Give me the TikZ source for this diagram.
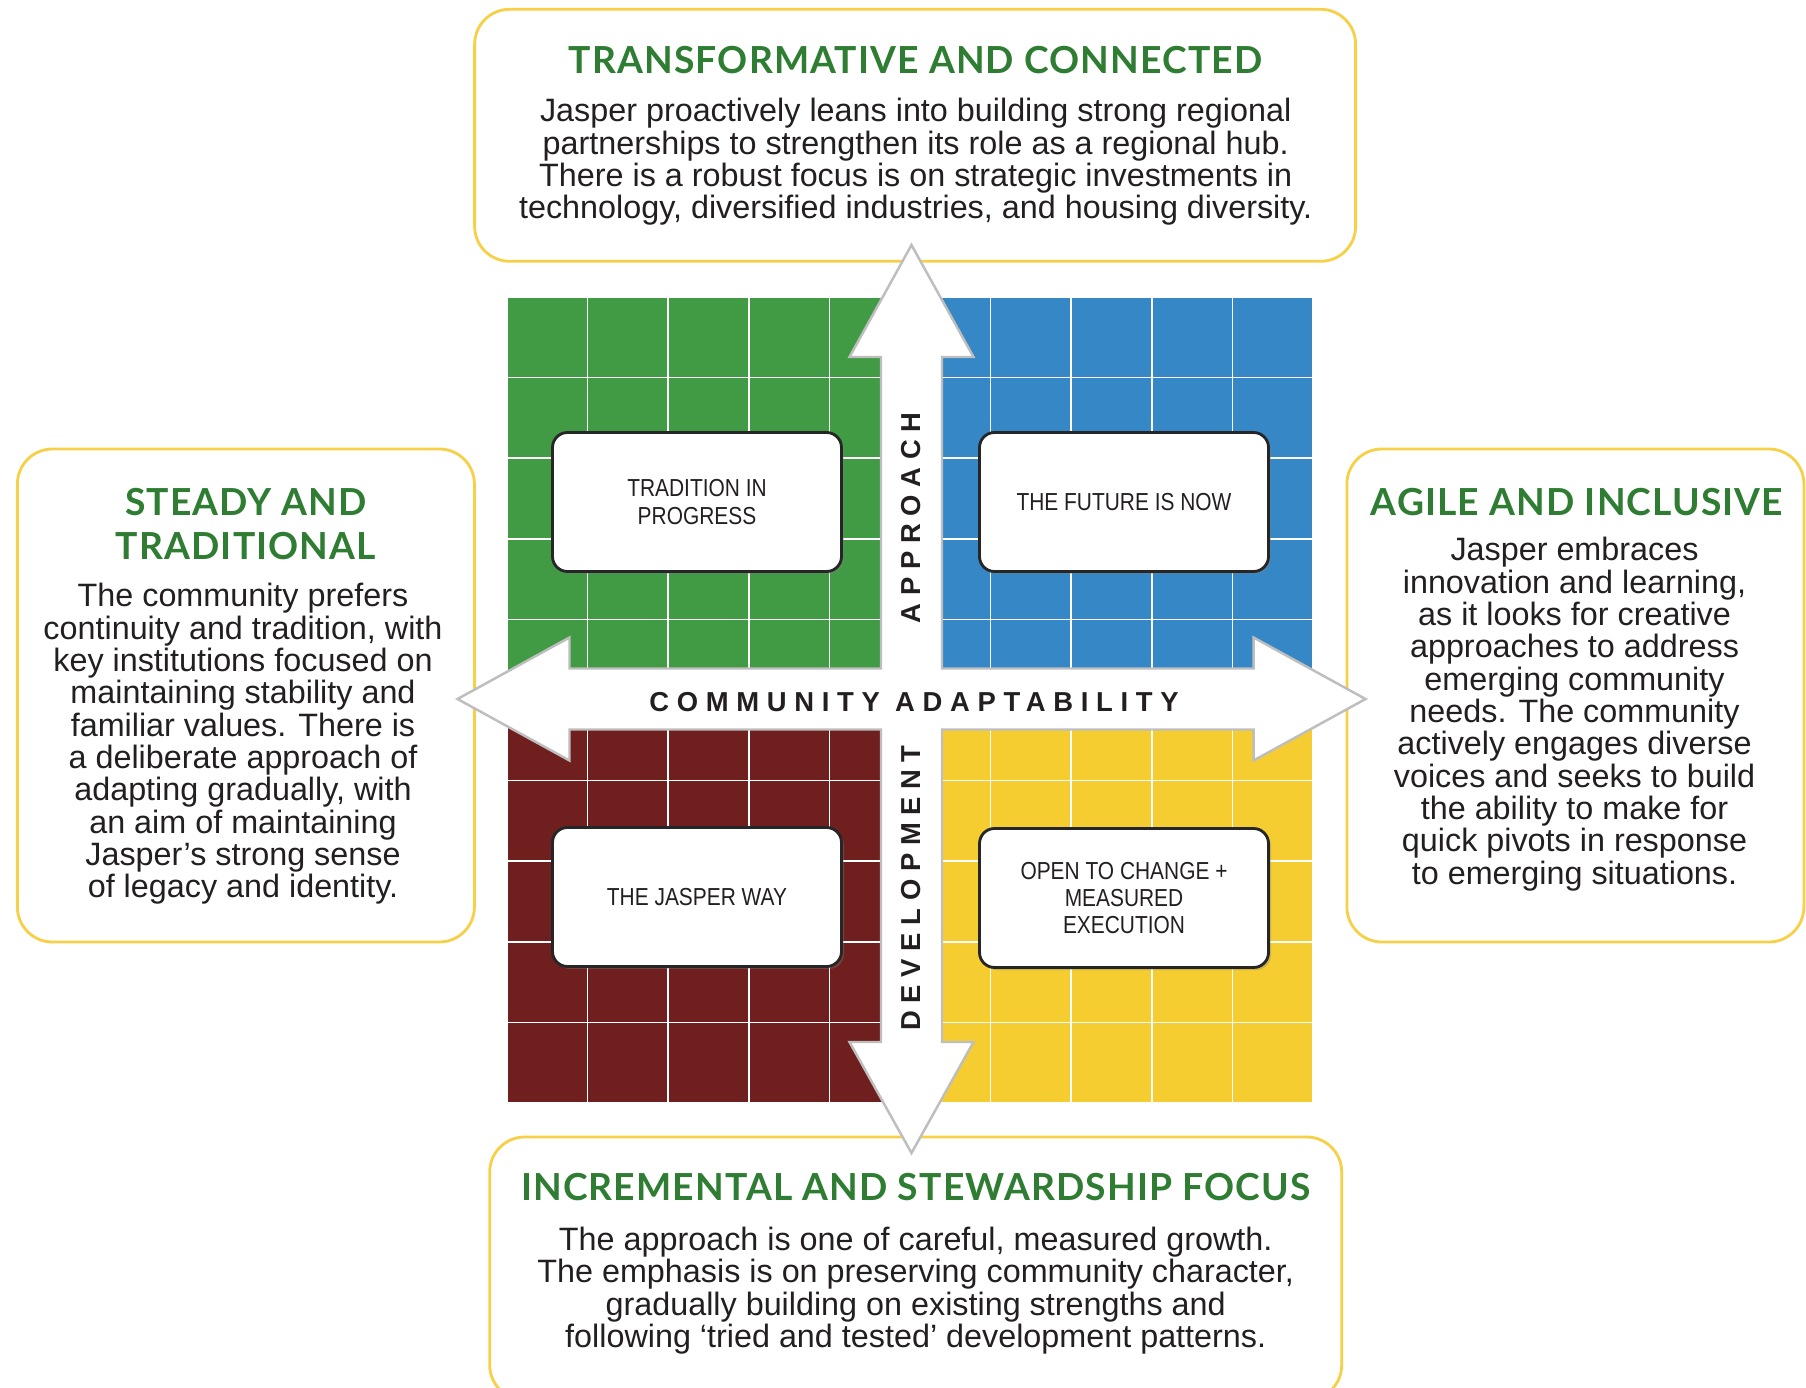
\documentclass[tikz,border=0pt]{standalone}
\usepackage{fontspec}
\setmainfont{Liberation Sans}
\newfontfamily\headfont[LetterSpace=3]{Lato}
\newfontfamily\narrowfont[FakeStretch=0.85]{Liberation Sans}
\newfontfamily\axisfont[LetterSpace=28]{Liberation Sans}
\usetikzlibrary{positioning, shadows}

\definecolor{headgreen}{RGB}{46,125,50}
\definecolor{quadgreen}{RGB}{65,155,69}
\definecolor{quadblue}{RGB}{53,135,197}
\definecolor{quadred}{RGB}{110,31,30}
\definecolor{quadyellow}{RGB}{245,205,48}
\definecolor{boxyellow}{RGB}{247,208,72}
\definecolor{arrowgray}{RGB}{190,190,190}
\definecolor{textdark}{RGB}{35,31,32}

\begin{document}
\begin{tikzpicture}[x=0.1mm, y=-0.1mm,
    info box/.style={draw=boxyellow, line width=0.8pt, rounded corners=3.5mm, fill=white},
    heading/.style={text=headgreen, align=center, font=\headfont\bfseries\fontsize{10.6}{12.4}\selectfont},
    body/.style={align=center, text=textdark, font=\fontsize{9.2}{9.2}\selectfont},
    quad label/.style={draw=black!85, line width=0.8pt, fill=white, rounded corners=1.5mm,
        minimum width=28.9mm, minimum height=13.9mm, align=center, text=textdark,
        font=\narrowfont\fontsize{7}{7.8}\selectfont,
        drop shadow={shadow xshift=0.25mm, shadow yshift=-0.25mm, opacity=0.35}},
    axis label/.style={text=textdark, font=\axisfont\bfseries\fontsize{7.8}{9}\selectfont},
    grid line/.style={white, line width=0.5pt},
    big arrow/.style={fill=white, draw=arrowgray, line width=0.7pt}]

    \clip (0,0) rectangle (1806,1388);

    % outer boxes
    \node[info box, minimum width=88.1mm, minimum height=25.2mm] (topbox) at (915.1,135.3) {};
    \node[info box, minimum width=45.7mm, minimum height=49.3mm] (leftbox) at (245.9,695.5) {};
    \node[info box, minimum width=45.7mm, minimum height=49.3mm] (rightbox) at (1575.4,695.5) {};
    \node[info box, minimum width=85.2mm, minimum height=26.3mm] (bottombox) at (915.7,1268.5) {};

    % quadrants
    \fill[quadgreen] (507,297) rectangle (910,700);
    \fill[quadblue] (910,297) rectangle (1313,700);
    \fill[quadred] (507,700) rectangle (910,1103);
    \fill[quadyellow] (910,700) rectangle (1313,1103);
    \foreach \i in {0,...,10} {
        \draw[grid line] ({507+80.6*\i},297) -- ++(0,806);
        \draw[grid line] (507,{297+80.6*\i}) -- ++(806,0);
    }

    % cross of arrows
    \draw[big arrow, shift={(911.5,699)}]
        (0,-454) -- (62,-342) -- (30.5,-342) -- (30.5,-30.5) -- (342,-30.5) -- (342,-61.5) -- (454,0)
        -- (342,61.5) -- (342,30.5) -- (30.5,30.5) -- (30.5,343) -- (62,343) -- (0,454)
        -- (-62,343) -- (-30.5,343) -- (-30.5,30.5) -- (-342,30.5) -- (-342,61.5) -- (-454,0)
        -- (-342,-61.5) -- (-342,-30.5) -- (-30.5,-30.5) -- (-30.5,-342) -- (-62,-342) -- cycle;

    \node[axis label] (adapt) at (914,702) {COMMUNITY ADAPTABILITY};
    \node[axis label, rotate=90] (approach) at (911.5,518) {APPROACH};
    \node[axis label, rotate=90] (development) at (911.5,888) {DEVELOPMENT};

    % quadrant labels
    \node[quad label] (tradition) at (697,502) {TRADITION IN\\PROGRESS};
    \node[quad label] (future) at (1124,502) {THE FUTURE IS NOW};
    \node[quad label] (jasperway) at (697,897) {THE JASPER WAY};
    \node[quad label] (openchange) at (1124,898) {OPEN TO CHANGE +\\MEASURED\\EXECUTION};

    % texts of the outer boxes
    \node[heading] (tophead) at (915.7,60) {TRANSFORMATIVE AND CONNECTED};
    \node[body] (toptext) at (915.7,162) {Jasper proactively leans into building strong regional\\
        partnerships to strengthen its role as a regional hub.\\
        There is a robust focus is on strategic investments in\\
        technology, diversified industries, and housing diversity.};

    \node[heading] (lefthead) at (246,524) {STEADY AND\\TRADITIONAL};
    \node[body] (lefttext) at (243,744) {The community prefers\\
        continuity and tradition, with\\
        key institutions focused on\\
        maintaining stability and\\
        familiar values. There is\\
        a deliberate approach of\\
        adapting gradually, with\\
        an aim of maintaining\\
        Jasper’s strong sense\\
        of legacy and identity.};

    \node[heading] (righthead) at (1577,502) {AGILE AND INCLUSIVE};
    \node[body] (righttext) at (1574.5,714) {Jasper embraces\\
        innovation and learning,\\
        as it looks for creative\\
        approaches to address\\
        emerging community\\
        needs. The community\\
        actively engages diverse\\
        voices and seeks to build\\
        the ability to make for\\
        quick pivots in response\\
        to emerging situations.};

    \node[heading] (bottomhead) at (915.7,1187.5) {INCREMENTAL AND STEWARDSHIP FOCUS};
    \node[body] (bottomtext) at (915.7,1290.5) {The approach is one of careful, measured growth.\\
        The emphasis is on preserving community character,\\
        gradually building on existing strengths and\\
        following ‘tried and tested’ development patterns.};
\end{tikzpicture}
\end{document}
